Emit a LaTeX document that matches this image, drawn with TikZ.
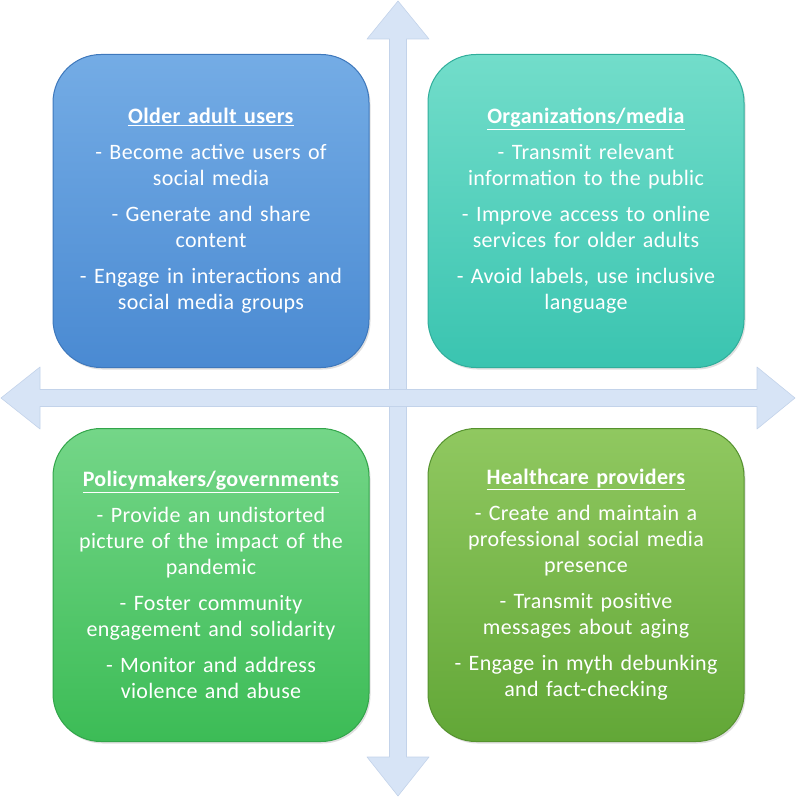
\documentclass[tikz,border=0pt]{standalone}
\usepackage{fontspec}
\setmainfont[LetterSpace=1.5,WordSpace=1.4]{Carlito}
\usepackage{xcolor}
\usetikzlibrary{shadows}

\definecolor{axisfill}{HTML}{D7E4F6}
\definecolor{axisline}{HTML}{C3D3EA}
\definecolor{blueTop}{HTML}{74ACE5}
\definecolor{blueBot}{HTML}{4A8AD2}
\definecolor{blueRim}{HTML}{3E78BC}
\definecolor{tealTop}{HTML}{72DDCA}
\definecolor{tealBot}{HTML}{3AC4B0}
\definecolor{tealRim}{HTML}{30AE9B}
\definecolor{greenTop}{HTML}{74D688}
\definecolor{greenBot}{HTML}{3CBC56}
\definecolor{greenRim}{HTML}{32A54A}
\definecolor{oliveTop}{HTML}{90C860}
\definecolor{oliveBot}{HTML}{62A737}
\definecolor{oliveRim}{HTML}{55922E}

\tikzset{
  quadbox/.style={rounded corners=48pt, minimum width=316pt, minimum height=313pt,
    align=center, text=white, line width=1pt,
    font=\fontsize{22}{26}\selectfont,
    drop shadow={shadow xshift=1.5pt, shadow yshift=-2pt, opacity=.25}},
  axis/.style={fill=axisfill, draw=axisline, line width=.6pt, line join=round}
}

\begin{document}
\begin{tikzpicture}[x=1pt,y=-1pt]
    \useasboundingbox (0,0) rectangle (796,797);
    % axes
    \path[axis] (398,1) -- (429,39) -- (406.5,39) -- (406.5,757) -- (429,757) -- (398,796)
      -- (367,757) -- (389.5,757) -- (389.5,39) -- (367,39) -- cycle;
    \path[axis] (1,398) -- (40,367) -- (40,389.5) -- (757,389.5) -- (757,367) -- (795,398)
      -- (757,429) -- (757,406.5) -- (40,406.5) -- (40,429) -- cycle;
    \fill[axisfill] (389.8,389.8) rectangle (406.2,406.2);
    % quadrants
    \node[quadbox, top color=blueTop, bottom color=blueBot, draw=blueRim] (olderusers) at (211,211)
      {\underline{\textbf{Older adult users}}\\[10pt]
       - Become active users of\\ social media\\[10pt]
       - Generate and share\\ content\\[10pt]
       - Engage in interactions and\\ social media groups};
    \node[quadbox, top color=tealTop, bottom color=tealBot, draw=tealRim] (orgmedia) at (586,211)
      {\underline{\textbf{Organizations/media}}\\[10pt]
       - Transmit relevant\\ information to the public\\[10pt]
       - Improve access to online\\ services for older adults\\[10pt]
       - Avoid labels, use inclusive\\ language};
    \node[quadbox, top color=greenTop, bottom color=greenBot, draw=greenRim] (policy) at (211,585)
      {\underline{\textbf{Policymakers/governments}}\\[10pt]
       - Provide an undistorted\\ picture of the impact of the\\ pandemic\\[10pt]
       - Foster community\\ engagement and solidarity\\[10pt]
       - Monitor and address\\ violence and abuse};
    \node[quadbox, top color=oliveTop, bottom color=oliveBot, draw=oliveRim] (health) at (586,585)
      {\underline{\textbf{Healthcare providers}}\\[10pt]
       - Create and maintain a\\ professional social media\\ presence\\[10pt]
       - Transmit positive\\ messages about aging\\[10pt]
       - Engage in myth debunking\\ and fact-checking};
\end{tikzpicture}
\end{document}
